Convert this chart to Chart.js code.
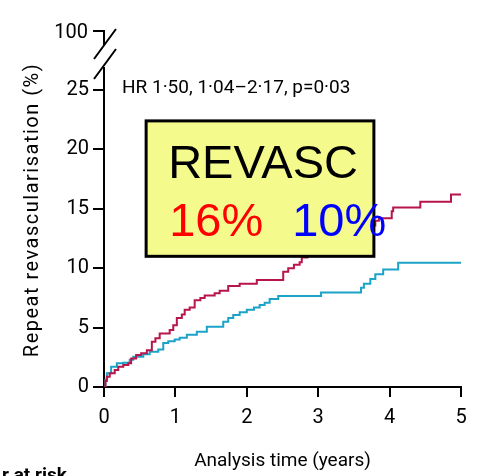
<!DOCTYPE html>
<html>
<head>
<meta charset="utf-8">
<script src="https://cdn.jsdelivr.net/npm/chart.js@4"></script>
<style>
body{margin:0;background:#fff;}
</style>
</head>
<body>
<canvas id="kmChart" width="481" height="476"></canvas>
<script>
// cumulative repeat revascularisation (%), step times in years
var redTimes  = [0, 0.02, 0.04, 0.08, 0.15, 0.20, 0.27, 0.34, 0.38, 0.45, 0.52, 0.60, 0.67, 0.72, 0.78, 0.92, 0.97, 1.02, 1.09, 1.13, 1.20, 1.27, 1.35, 1.41, 1.55, 1.62, 1.74, 1.90, 2.14, 2.51, 2.58, 2.66, 2.74, 2.77, 2.85, 2.95, 3.05, 3.20, 3.35, 3.50, 3.65, 3.80, 3.85, 4.03, 4.05, 4.43, 4.86, 5.0];
var redValues = [0, 0.5, 0.87, 1.15, 1.43, 1.7, 1.85, 2.0, 2.4, 2.7, 2.85, 3.1, 3.8, 4.1, 4.5, 4.8, 5.2, 5.8, 6.1, 6.5, 6.7, 7.3, 7.5, 7.7, 7.9, 8.1, 8.5, 8.7, 9.0, 9.7, 10.0, 10.3, 10.5, 10.9, 11.3, 11.7, 12.1, 12.5, 12.9, 13.3, 13.6, 14.0, 14.2, 14.8, 15.1, 15.6, 16.2, 16.2];

var tealTimes  = [0, 0.02, 0.04, 0.10, 0.18, 0.27, 0.36, 0.41, 0.55, 0.64, 0.76, 0.83, 0.90, 0.99, 1.06, 1.16, 1.30, 1.44, 1.67, 1.74, 1.81, 1.90, 2.00, 2.10, 2.18, 2.25, 2.32, 2.44, 3.04, 3.60, 3.64, 3.73, 3.80, 3.91, 4.12, 5.0];
var tealValues = [0, 0.6, 1.15, 1.7, 2.0, 2.05, 2.3, 2.55, 2.75, 2.97, 3.15, 3.7, 3.85, 4.0, 4.15, 4.4, 4.66, 5.08, 5.5, 5.8, 6.07, 6.3, 6.5, 6.7, 6.9, 7.1, 7.4, 7.65, 7.95, 8.35, 8.7, 9.1, 9.5, 9.9, 10.45, 10.45];

var xTicks = [0, 1, 2, 3, 4, 5];
var yTicks = [0, 5, 10, 15, 20, 25];
var breakLabel = '100';

var hrText = 'HR 1·50, 1·04–2·17, p=0·03';
var boxTitle = 'REVASC';
var boxRed = '16%';
var boxBlue = '10%';

var FONT = "Roboto, 'Open Sans', sans-serif";

function toPoints(ts, vs){
  return ts.map(function(t, i){ return {x: t, y: vs[i]}; });
}

var extras = {
  id: 'extras',
  afterDatasetsDraw: function(chart){
    var ctx = chart.ctx;
    var xs = chart.scales.x, ys = chart.scales.y;
    var ax = xs.getPixelForValue(0);
    var y25 = ys.getPixelForValue(25);

    ctx.save();
    ctx.strokeStyle = '#000';
    ctx.lineWidth = 2;
    ctx.lineCap = 'butt';

    // axis continues above 25, then the break up to 100
    ctx.beginPath();
    ctx.moveTo(ax, y25 + 1);
    ctx.lineTo(ax, y25 - 23);
    ctx.moveTo(ax - 10, y25 - 11);
    ctx.lineTo(ax + 12, y25 - 41);
    ctx.moveTo(ax - 10, y25 - 31);
    ctx.lineTo(ax + 12, y25 - 61);
    ctx.moveTo(ax, y25 - 45);
    ctx.lineTo(ax, y25 - 59);
    ctx.lineTo(ax - 11, y25 - 59);
    ctx.stroke();

    ctx.fillStyle = '#000';
    ctx.font = '20px ' + FONT;
    ctx.textAlign = 'right';
    ctx.textBaseline = 'middle';
    ctx.fillText(breakLabel, ax - 16, y25 - 57);

    ctx.font = '19px ' + FONT;
    ctx.textAlign = 'left';
    ctx.fillText(hrText, ax + 18, y25 - 2);

    // y axis title
    ctx.save();
    ctx.translate(33, 210);
    ctx.rotate(-Math.PI / 2);
    ctx.font = '20px ' + FONT;
    ctx.letterSpacing = '1.5px';
    ctx.textAlign = 'center';
    ctx.fillText('Repeat revascularisation (%)', 0, 0);
    ctx.restore();

    // clipped heading of the table below
    ctx.font = 'bold 19px ' + FONT;
    ctx.textBaseline = 'alphabetic';
    ctx.fillText('r at risk', 2, 481);

    // REVASC box
    var bl = xs.getPixelForValue(0.59), br = xs.getPixelForValue(3.78);
    var bt = ys.getPixelForValue(22.4), bb = ys.getPixelForValue(11.0);
    ctx.fillStyle = '#f4fa8c';
    ctx.fillRect(bl, bt, br - bl, bb - bt);
    ctx.lineWidth = 3;
    ctx.strokeRect(bl, bt, br - bl, bb - bt);

    ctx.font = "47px 'Liberation Sans', Arial, sans-serif";
    ctx.fillStyle = '#000';
    ctx.fillText(boxTitle, bl + 22, bt + 57);
    ctx.fillStyle = '#ff0000';
    ctx.fillText(boxRed, bl + 23, bt + 115);
    ctx.fillStyle = '#0000ff';
    ctx.fillText(boxBlue, bl + 146, bt + 115);
    ctx.restore();
  }
};

new Chart(document.getElementById('kmChart'), {
  type: 'line',
  data: {
    datasets: [
      {
        data: toPoints(redTimes, redValues),
        borderColor: '#b8154a',
        borderWidth: 2,
        stepped: true,
        pointRadius: 0,
        fill: false
      },
      {
        data: toPoints(tealTimes, tealValues),
        borderColor: '#1ba3c8',
        borderWidth: 2,
        stepped: true,
        pointRadius: 0,
        fill: false
      }
    ]
  },
  options: {
    responsive: false,
    animation: false,
    layout: {padding: {top: 90, right: 20, left: 0, bottom: 0}},
    plugins: {legend: {display: false}, tooltip: {enabled: false}},
    scales: {
      x: {
        type: 'linear',
        min: 0,
        max: 5,
        afterFit: function(s){ s.height = 89; },
        afterBuildTicks: function(s){ s.ticks = xTicks.map(function(v){ return {value: v}; }); },
        border: {color: '#000', width: 2},
        grid: {drawOnChartArea: false, color: '#000', lineWidth: 2, tickLength: 10},
        ticks: {color: '#000', font: {family: FONT, size: 20}, padding: 9, maxRotation: 0},
        title: {display: true, text: 'Analysis time (years)', color: '#000', font: {family: FONT, size: 19}, padding: {top: 6, bottom: 3}}
      },
      y: {
        type: 'linear',
        min: 0,
        max: 25,
        afterFit: function(s){ s.width = 104; },
        afterBuildTicks: function(s){ s.ticks = yTicks.map(function(v){ return {value: v}; }); },
        border: {color: '#000', width: 2},
        grid: {drawOnChartArea: false, color: '#000', lineWidth: 2, tickLength: 11},
        ticks: {color: '#000', font: {family: FONT, size: 20}, padding: 4}
      }
    }
  },
  plugins: [extras]
});
</script>
</body>
</html>
